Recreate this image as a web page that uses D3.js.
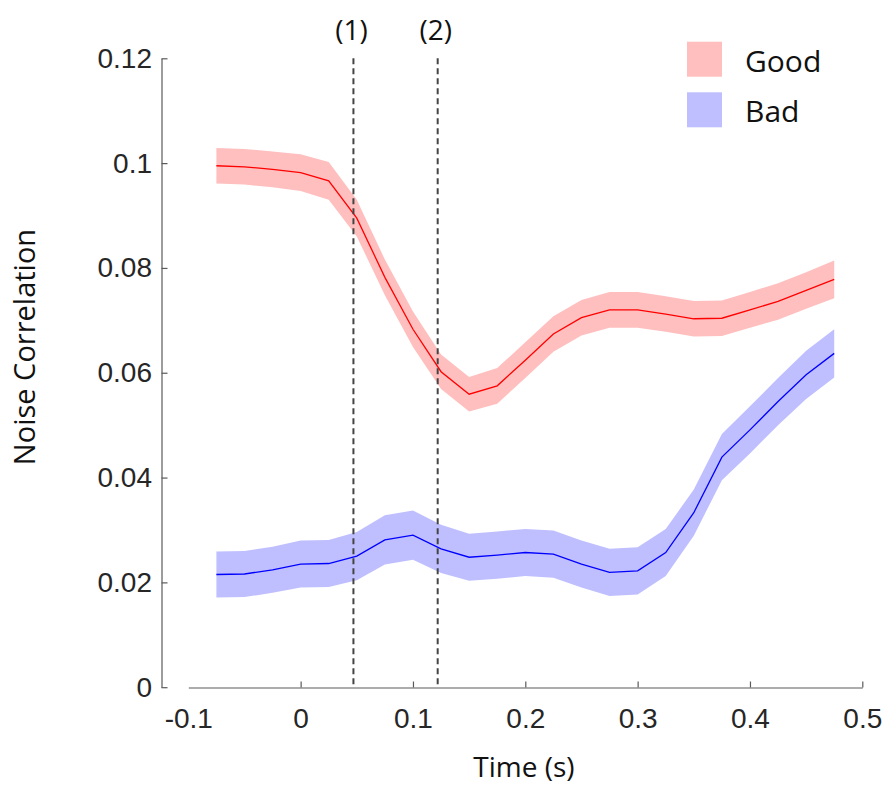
<!DOCTYPE html>
<html lang="en">
<head>
    <meta charset="UTF-8">
    <title>Noise Correlation over Time</title>
    <script src="https://d3js.org/d3.v7.min.js"></script>
    <style>
        body { margin: 0; background: #fff; }
        .tick text { font-family: "Liberation Sans", Arial, sans-serif; fill: #262626; }
        .label { font-family: "Open Sans", sans-serif; fill: #111; }
    </style>
</head>
<body>
    <div id="chart"></div>
    <script>
        // time points (s)
        const times = [-0.075, -0.05, -0.025, 0, 0.025, 0.05, 0.075, 0.1, 0.125, 0.15, 0.175, 0.2,
                       0.225, 0.25, 0.275, 0.3, 0.325, 0.35, 0.375, 0.4, 0.425, 0.45, 0.475];
        // mean and error band half-width for each condition
        const goodMean = [0.0995, 0.0993, 0.0988, 0.0982, 0.0966, 0.0895, 0.0782, 0.0683, 0.0602, 0.0559, 0.0575, 0.0624,
                          0.0674, 0.0705, 0.0720, 0.0720, 0.0712, 0.0703, 0.0704, 0.0720, 0.0736, 0.0757, 0.0778];
        const goodSem = [0.0034, 0.0034, 0.0034, 0.0035, 0.0036, 0.0035, 0.0034, 0.0034, 0.0033, 0.0033, 0.0034, 0.0034,
                         0.0034, 0.0034, 0.0034, 0.0034, 0.0034, 0.0034, 0.0034, 0.0034, 0.0035, 0.0035, 0.0036];
        const badMean = [0.0215, 0.0216, 0.0224, 0.0235, 0.0236, 0.0250, 0.0281, 0.0290, 0.0264, 0.0248, 0.0252, 0.0257,
                         0.0254, 0.0235, 0.0219, 0.0222, 0.0257, 0.0333, 0.0439, 0.0491, 0.0545, 0.0596, 0.0637];
        const badSem = [0.0044, 0.0044, 0.0044, 0.0045, 0.0045, 0.0046, 0.0047, 0.0047, 0.0046, 0.0045, 0.0045, 0.0045,
                        0.0045, 0.0045, 0.0045, 0.0045, 0.0045, 0.0044, 0.0044, 0.0045, 0.0045, 0.0046, 0.0046];
        // event markers
        const markerTimes = [0.047, 0.122];
        const markerLabels = ["(1)", "(2)"];
        // ticks
        const xTicks = [-0.1, 0, 0.1, 0.2, 0.3, 0.4, 0.5];
        const yTicks = [0, 0.02, 0.04, 0.06, 0.08, 0.1, 0.12];
        const seriesNames = ["Good", "Bad"];

        const width = 885, height = 785;
        const yAxisX = 161.5;

        const x = d3.scaleLinear().domain([-0.1, 0.5]).range([188.3, 862.3]);
        const y = d3.scaleLinear().domain([0, 0.12]).range([687.2, 58.3]);

        const svg = d3.select('#chart').append('svg')
            .attr('width', width)
            .attr('height', height);

        const series = [
            { name: seriesNames[0], mean: goodMean, sem: goodSem, line: '#ff0000', band: '#ffbfbf' },
            { name: seriesNames[1], mean: badMean, sem: badSem, line: '#0000ff', band: '#bfbfff' }
        ];

        const area = d3.area()
            .x(d => x(d.t))
            .y0(d => y(d.m - d.s))
            .y1(d => y(d.m + d.s));
        const line = d3.line()
            .x(d => x(d.t))
            .y(d => y(d.m));

        series.forEach(s => {
            const pts = times.map((t, i) => ({ t: t, m: s.mean[i], s: s.sem[i] }));
            svg.append('path')
                .attr('d', area(pts))
                .attr('fill', s.band);
            svg.append('path')
                .attr('d', line(pts))
                .attr('fill', 'none')
                .attr('stroke', s.line)
                .attr('stroke-width', 1.3);
        });

        // dashed event lines
        svg.selectAll('.marker')
            .data(markerTimes)
            .enter()
            .append('line')
            .attr('x1', d => x(d))
            .attr('x2', d => x(d))
            .attr('y1', y(0.12))
            .attr('y2', y(0))
            .attr('stroke', '#444')
            .attr('stroke-width', 2)
            .attr('stroke-dasharray', '6,4');

        svg.selectAll('.marker-label')
            .data(markerTimes)
            .enter()
            .append('text')
            .attr('class', 'label')
            .attr('x', d => x(d) - 2)
            .attr('y', 40)
            .attr('text-anchor', 'middle')
            .style('font-size', '28px')
            .text((d, i) => markerLabels[i]);

        const fmt = d => String(+d.toFixed(2));

        // y axis
        const yAxis = svg.append('g')
            .attr('transform', `translate(${yAxisX},0)`)
            .call(d3.axisLeft(y).tickValues(yTicks).tickFormat(fmt)
                .tickSizeInner(-6).tickSizeOuter(0).tickPadding(9.5));
        yAxis.selectAll('.tick text').style('font-size', '28px');

        // x axis
        const xAxis = svg.append('g')
            .attr('transform', `translate(0,${y(0) + 0.3})`)
            .call(d3.axisBottom(x).tickValues(xTicks).tickFormat(fmt)
                .tickSizeInner(-6).tickSizeOuter(0).tickPadding(21));
        xAxis.selectAll('.tick text').style('font-size', '28px');
        xAxis.selectAll('.tick line').filter(d => d === -0.1).remove();

        svg.selectAll('.domain, .tick line')
            .attr('stroke', '#5a5a5a')
            .attr('stroke-width', 1.2);

        // axis titles
        svg.append('text')
            .attr('class', 'label')
            .attr('x', 524)
            .attr('y', 777)
            .attr('text-anchor', 'middle')
            .style('font-size', '28px')
            .text('Time (s)');

        svg.append('text')
            .attr('class', 'label')
            .attr('transform', 'translate(35,347) rotate(-90)')
            .attr('text-anchor', 'middle')
            .style('font-size', '29px')
            .text('Noise Correlation');

        // legend
        const legend = svg.selectAll('.legend')
            .data(series)
            .enter()
            .append('g')
            .attr('transform', (d, i) => `translate(687,${41.7 + i * 50.6})`);
        legend.append('rect')
            .attr('width', 35)
            .attr('height', 35)
            .attr('fill', d => d.band);
        legend.append('text')
            .attr('class', 'label')
            .attr('x', 58)
            .attr('y', 30)
            .style('font-size', '30px')
            .text(d => d.name);
    </script>
</body>
</html>
